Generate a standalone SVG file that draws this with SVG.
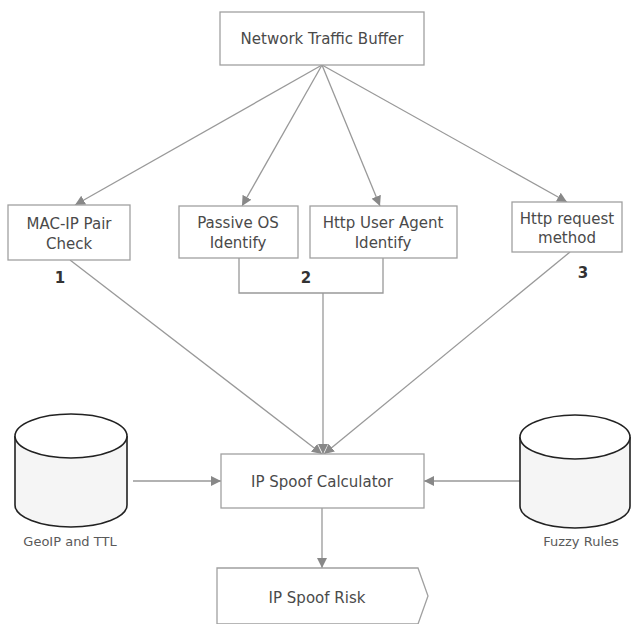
<svg xmlns="http://www.w3.org/2000/svg" width="631" height="624" viewBox="0 0 631 624">
<style>
.box{fill:#fff;stroke:#a0a0a0;stroke-width:1.3}
.t{font-family:"DejaVu Sans",Verdana,sans-serif;font-size:15px;fill:#4a4a4a;text-anchor:middle}
.s{font-family:"DejaVu Sans",Verdana,sans-serif;font-size:13px;fill:#5a5a5a;text-anchor:middle}
.n{font-family:"DejaVu Sans",Verdana,sans-serif;font-size:15px;font-weight:bold;fill:#333;text-anchor:middle}
.c{fill:none;stroke:#999;stroke-width:1.3}
.cyl{fill:#f5f5f5;stroke:#222;stroke-width:1.6}
</style>
<defs>
<marker id="a" viewBox="0 0 10 10" refX="10" refY="5" markerWidth="10" markerHeight="10" markerUnits="userSpaceOnUse" orient="auto">
<path d="M0,0 L10,5 L0,10 z" fill="#888"/>
</marker>
</defs>
<rect width="631" height="624" fill="#fff"/>
<g id="connectors">
<line class="c" x1="322" y1="65" x2="75" y2="205" marker-end="url(#a)"/>
<line class="c" x1="322" y1="65" x2="242" y2="206" marker-end="url(#a)"/>
<line class="c" x1="322" y1="65" x2="380" y2="206" marker-end="url(#a)"/>
<line class="c" x1="322" y1="65" x2="567" y2="202" marker-end="url(#a)"/>
<polyline class="c" points="239,258 239,293 383,293 383,258"/>
<line class="c" x1="70" y1="260" x2="322" y2="454" marker-end="url(#a)"/>
<line class="c" x1="323" y1="293" x2="323" y2="454" marker-end="url(#a)"/>
<line class="c" x1="570" y1="252" x2="324" y2="454" marker-end="url(#a)"/>
<line class="c" x1="133" y1="481" x2="221" y2="481" marker-end="url(#a)"/>
<line class="c" x1="520" y1="481" x2="424" y2="481" marker-end="url(#a)"/>
<line class="c" x1="322" y1="508" x2="322" y2="568" marker-end="url(#a)"/>
</g>
<g id="ntb">
<rect class="box" x="220" y="12" width="204" height="53"/>
<text class="t" x="322" y="44">Network Traffic Buffer</text>
</g>
<g id="macip">
<rect class="box" x="8" y="205" width="122" height="55"/>
<text class="t" x="69" y="229">MAC-IP Pair</text>
<text class="t" x="69" y="249">Check</text>
<text class="n" x="60" y="283">1</text>
</g>
<g id="pos">
<rect class="box" x="179" y="206" width="119" height="52"/>
<text class="t" x="238" y="228">Passive OS</text>
<text class="t" x="238" y="248">Identify</text>
</g>
<g id="hua">
<rect class="box" x="310" y="206" width="147" height="52"/>
<text class="t" x="383" y="228">Http User Agent</text>
<text class="t" x="383" y="248">Identify</text>
<text class="n" x="306" y="283">2</text>
</g>
<g id="hrm">
<rect class="box" x="512" y="202" width="110" height="50"/>
<text class="t" x="567" y="224">Http request</text>
<text class="t" x="567" y="243">method</text>
<text class="n" x="583" y="278">3</text>
</g>
<g id="geoip">
<path class="cyl" d="M15,436 L15,505 A56,22 0 0 0 127,505 L127,436"/>
<ellipse cx="71" cy="436" rx="56" ry="22" fill="#fff" stroke="#222" stroke-width="1.6"/>
<text class="s" x="70" y="546">GeoIP and TTL</text>
</g>
<g id="fuzzy">
<path class="cyl" d="M520,437 L520,506 A55,22 0 0 0 630,506 L630,437"/>
<ellipse cx="575" cy="437" rx="55" ry="22" fill="#fff" stroke="#222" stroke-width="1.6"/>
<text class="s" x="581" y="546">Fuzzy Rules</text>
</g>
<g id="calc">
<rect class="box" x="221" y="454" width="203" height="54"/>
<text class="t" x="322" y="487">IP Spoof Calculator</text>
</g>
<g id="risk">
<path class="box" d="M217,568 L418,568 L428,596 L418,624 L217,624 Z"/>
<text class="t" x="317" y="603">IP Spoof Risk</text>
</g>
</svg>
